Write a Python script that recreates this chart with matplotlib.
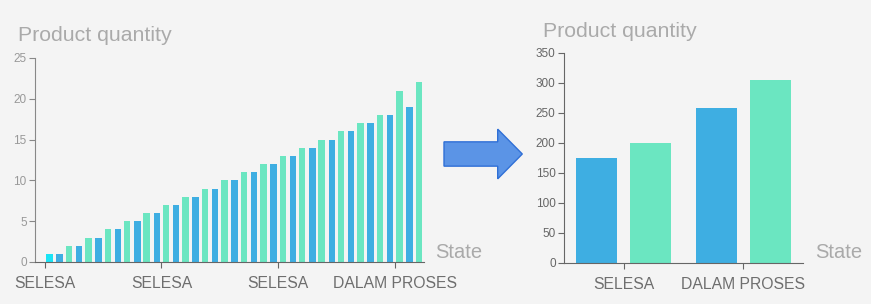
import numpy as np
import matplotlib
matplotlib.use("Agg")
import matplotlib.pyplot as plt
from matplotlib.patches import FancyArrow
from matplotlib.transforms import Affine2D

W, H = 871, 304

# left chart: one category per order, two series
left_states = ["SELESA", "SELESA", "SELESA", "SELESA", "SELESA", "SELESA",
               "SELESA", "SELESA", "SELESA", "SELESA", "SELESA", "SELESA",
               "SELESA", "SELESA", "SELESA", "SELESA", "SELESA", "SELESA",
               "DALAM PROSES", "DALAM PROSES"]
left_blue = [0, 1, 2, 3, 4, 5, 6, 7, 8, 9, 10, 11, 12, 13, 14, 15, 16, 17, 18, 19]
left_green = [1, 2, 3, 4, 5, 6, 7, 8, 9, 10, 11, 12, 13, 14, 15, 16, 17, 18, 21, 22]
left_ticks = [0, 6, 12, 18]

# right chart: grouped by state
right_states = ["SELESA", "DALAM PROSES"]
right_blue = [175, 258]
right_green = [199, 305]

BG = "#f4f4f4"
BLUE = "#3eaee2"
GREEN = "#6be6c1"
CYAN = "#1ae4f5"
FONT = "Liberation Sans"

plt.rcParams["font.family"] = [FONT, "DejaVu Sans"]

fig = plt.figure(figsize=(W / 100, H / 100), dpi=100, facecolor=BG)


def box(x0, y0, x1, y1):
    # pixel box (top-left origin) -> figure fraction rect
    return [x0 / W, 1 - y1 / H, (x1 - x0) / W, (y1 - y0) / H]


def style_axes(ax, ylab_color, yaxis_color):
    ax.set_facecolor(BG)
    for s in ("top", "right"):
        ax.spines[s].set_visible(False)
    ax.spines["left"].set_color(yaxis_color)
    ax.spines["bottom"].set_color("#666666")
    ax.tick_params(axis="y", length=4, width=0.8, color=yaxis_color, pad=2,
                   labelsize=8.5, labelcolor=ylab_color)
    ax.tick_params(axis="x", length=4, width=0.8, color="#666666", pad=6,
                   labelsize=11.3, labelcolor="#6e6e6e")


def fig_text(x, y, s, size, **kw):
    fig.text(x / W, 1 - y / H, s, fontsize=size, color="#aaaaaa",
             va="baseline", ha="left", **kw)


# ---- left
ax1 = fig.add_axes(box(35, 58, 424, 262))
style_axes(ax1, "#999999", "#888888")
x = np.arange(len(left_states))
bw, off = 0.33, 0.24
ax1.bar(x - off, left_blue, width=bw, color=BLUE)
gcols = [CYAN] + [GREEN] * (len(left_green) - 1)
ax1.bar(x + off, left_green, width=bw, color=gcols)
ax1.set_xlim(-0.5, len(left_states) - 0.5)
ax1.set_ylim(0, 25)
ax1.set_yticks([0, 5, 10, 15, 20, 25])
ax1.set_xticks(left_ticks)
ax1.set_xticklabels([left_states[i] for i in left_ticks])

# ---- right
ax2 = fig.add_axes(box(564, 52.7, 803, 262.7))
style_axes(ax2, "#666666", "#666666")
x2 = np.arange(len(right_states))
bw2, off2 = 0.343, 0.226
ax2.bar(x2 - off2, right_blue, width=bw2, color=BLUE)
ax2.bar(x2 + off2, right_green, width=bw2, color=GREEN)
ax2.set_xlim(-0.5, len(right_states) - 0.5)
ax2.set_ylim(0, 350)
ax2.set_yticks(np.arange(0, 351, 50))
ax2.set_xticks(x2)
ax2.set_xticklabels(right_states)

# titles and axis names
fig_text(18, 41, "Product quantity", 15.3)
fig_text(543, 36.7, "Product quantity", 15.3)
fig_text(435, 258.3, "State", 14.5)
fig_text(815, 258.3, "State", 14.5)

# arrow between the charts, drawn in pixels
px = Affine2D().scale(1 / 100) + fig.dpi_scale_trans
arrow = FancyArrow(444, H - 154, 78.3, 0, width=24.3, head_width=49.7,
                   head_length=24.6, length_includes_head=True,
                   facecolor="#5b94e6", edgecolor="#2f6fd6", linewidth=1,
                   transform=px)
fig.add_artist(arrow)

fig.savefig("out.png", dpi=100, facecolor=BG)
